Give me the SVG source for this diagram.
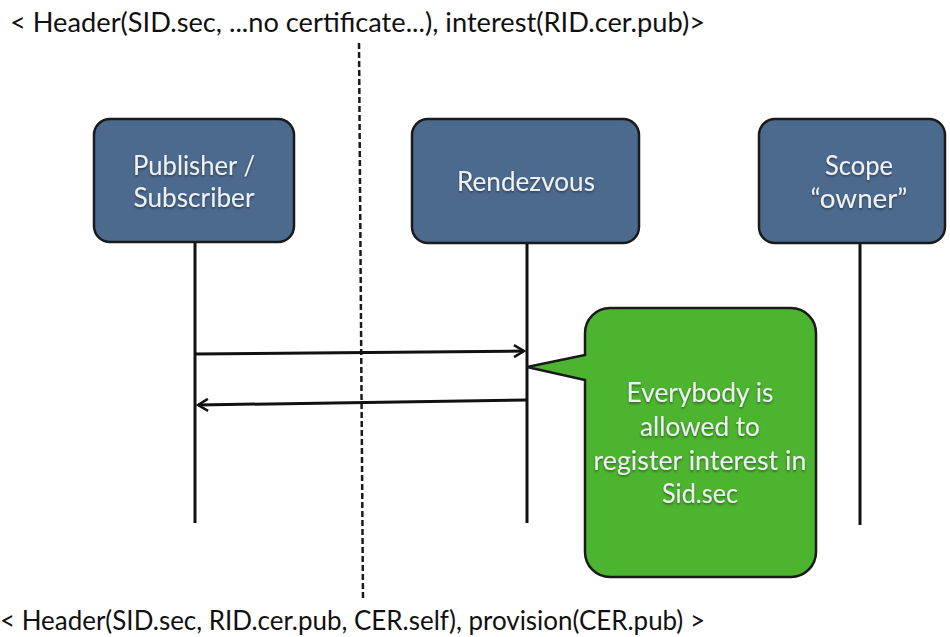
<svg xmlns="http://www.w3.org/2000/svg" width="950" height="637" viewBox="0 0 950 637">
  <style>
    .caption { font-family: "Lato", "Open Sans", "Liberation Sans", sans-serif; font-size: 27px; fill: #111111; }
    .actor rect { fill: #4c6a8e; stroke: #1a1a1a; stroke-width: 2.5; }
    .label { font-family: "Lato", "Open Sans", "Liberation Sans", sans-serif; font-size: 27px; fill: #eef2f4; text-anchor: middle; }
    .lifeline { stroke: #111111; stroke-width: 3; fill: none; }
    .msg { stroke: #111111; stroke-width: 3; fill: none; }
    .divider { stroke: #1a1a1a; stroke-width: 2.5; stroke-dasharray: 6 3; fill: none; }
    .note { fill: #4cb42e; stroke: #1a1a1a; stroke-width: 2.5; }
  </style>
  <defs>
    <marker id="arrow" viewBox="0 0 14 14" refX="12" refY="7" markerWidth="14" markerHeight="14" markerUnits="userSpaceOnUse" orient="auto">
      <path d="M2,1 L12,7 L2,13" fill="none" stroke="#111111" stroke-width="2.5"/>
    </marker>
    <filter id="shadow" x="-10%" y="-10%" width="120%" height="130%">
      <feDropShadow dx="0" dy="1.5" stdDeviation="1" flood-color="#000000" flood-opacity="0.45"/>
    </filter>
  </defs>

  <rect width="950" height="637" fill="#ffffff"/>

  <!-- message captions -->
  <text class="caption" x="10" y="32" textLength="695" lengthAdjust="spacingAndGlyphs">&lt; Header(SID.sec, ...no certificate...), interest(RID.cer.pub)&gt;</text>
  <text class="caption" x="0" y="630" textLength="705" lengthAdjust="spacingAndGlyphs">&lt; Header(SID.sec, RID.cer.pub, CER.self), provision(CER.pub) &gt;</text>

  <g id="connectors">
    <line class="divider" x1="359" y1="43" x2="363" y2="600"/>
    <line class="lifeline" x1="195" y1="242" x2="195" y2="523"/>
    <line class="lifeline" x1="527" y1="242" x2="527" y2="523"/>
    <line class="lifeline" x1="860" y1="243" x2="860" y2="525"/>
    <line class="msg" x1="195" y1="354" x2="524" y2="351" marker-end="url(#arrow)"/>
    <line class="msg" x1="527" y1="400" x2="198" y2="405" marker-end="url(#arrow)"/>
  </g>

  <g id="publisher-subscriber" class="actor">
    <rect x="94" y="119" width="200" height="123" rx="16"/>
    <text class="label" x="194" y="175" filter="url(#shadow)" textLength="122" lengthAdjust="spacingAndGlyphs">Publisher /</text>
    <text class="label" x="194" y="207" filter="url(#shadow)" textLength="121" lengthAdjust="spacingAndGlyphs">Subscriber</text>
  </g>

  <g id="rendezvous" class="actor">
    <rect x="412" y="119" width="227" height="124" rx="16"/>
    <text class="label" x="526" y="191" filter="url(#shadow)" textLength="138" lengthAdjust="spacingAndGlyphs">Rendezvous</text>
  </g>

  <g id="scope-owner" class="actor">
    <rect x="759" y="119" width="186" height="124" rx="16"/>
    <text class="label" x="859" y="175" filter="url(#shadow)" textLength="68" lengthAdjust="spacingAndGlyphs">Scope</text>
    <text class="label" x="859" y="208" filter="url(#shadow)" textLength="97" lengthAdjust="spacingAndGlyphs">“owner”</text>
  </g>

  <g id="note">
    <path class="note" d="M610,308 H791 A25,25 0 0 1 816,333 V552 A25,25 0 0 1 791,577 H610 A25,25 0 0 1 585,552 V380 L527,367 L585,355 V333 A25,25 0 0 1 610,308 Z"/>
    <text class="label" x="700" y="402" filter="url(#shadow)" textLength="147" lengthAdjust="spacingAndGlyphs">Everybody is</text>
    <text class="label" x="700" y="436" filter="url(#shadow)" textLength="120" lengthAdjust="spacingAndGlyphs">allowed to</text>
    <text class="label" x="700" y="470" filter="url(#shadow)" textLength="213" lengthAdjust="spacingAndGlyphs">register interest in</text>
    <text class="label" x="700" y="503" filter="url(#shadow)" textLength="76" lengthAdjust="spacingAndGlyphs">Sid.sec</text>
  </g>
</svg>
